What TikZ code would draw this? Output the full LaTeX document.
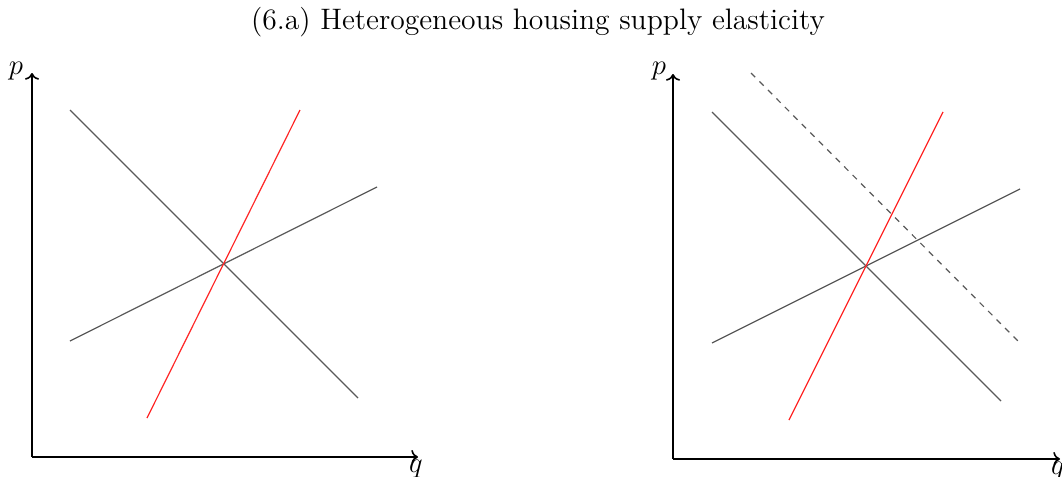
\documentclass[tikz,border=0pt]{standalone}
\usetikzlibrary{arrows.meta}
\tikzset{
  axis/.style={thick,->},
  curve/.style={black!65,line width=0.6pt},
  supply/.style={red!85,line width=0.6pt},
  shifted/.style={black!65,line width=0.6pt,dashed},
  lbl/.style={inner sep=0pt,font=\fontsize{14}{16}\selectfont}
}
\begin{document}
\begin{tikzpicture}[x=0.5pt,y=-0.5pt]
\useasboundingbox (0,0) rectangle (1062,477);
\node[font=\fontsize{14.8}{17}\selectfont] (title) at (538,22) {(6.a) Heterogeneous housing supply elasticity};
% left panel
\coordinate (O1) at (32,457);
\coordinate (Y1) at (32,73);
\coordinate (X1) at (418,457);
\draw[axis] (O1) -- (Y1);
\draw[axis] (O1) -- (X1);
\node[lbl] (p1) at (16,71) {$p$};
\node[lbl] (q1) at (416,469.5) {$q$};
\coordinate (D1a) at (70,110);
\coordinate (D1b) at (358,398);
\coordinate (S1a) at (147,418);
\coordinate (S1b) at (300,110);
\coordinate (F1a) at (70,341);
\coordinate (F1b) at (377,187);
\draw[curve] (D1a) -- (D1b);
\draw[curve] (F1a) -- (F1b);
\draw[supply] (S1a) -- (S1b);
% right panel
\coordinate (O2) at (673,459);
\coordinate (Y2) at (673,74);
\coordinate (X2) at (1060,459);
\draw[axis] (O2) -- (Y2);
\draw[axis] (O2) -- (X2);
\node[lbl] (p2) at (659,71) {$p$};
\node[lbl] (q2) at (1058,471) {$q$};
\coordinate (D2a) at (712,112);
\coordinate (D2b) at (1001,401);
\coordinate (S2a) at (789,420);
\coordinate (S2b) at (943,112);
\coordinate (F2a) at (712,343);
\coordinate (F2b) at (1020,189);
\coordinate (N2a) at (751,73);
\coordinate (N2b) at (1020,343);
\draw[curve] (D2a) -- (D2b);
\draw[curve] (F2a) -- (F2b);
\draw[supply] (S2a) -- (S2b);
\draw[shifted] (N2a) -- (N2b);
\end{tikzpicture}
\end{document}
